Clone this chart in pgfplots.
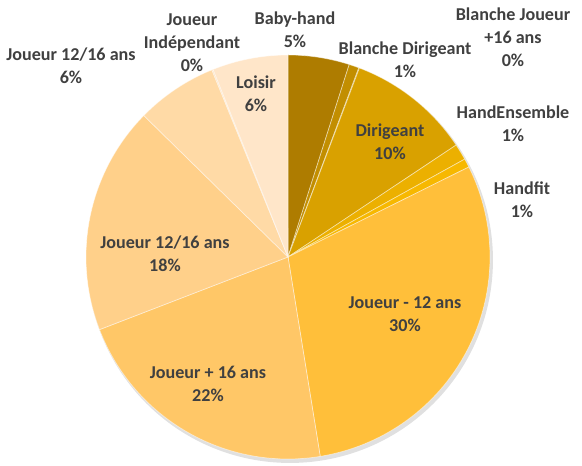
\documentclass[border=0pt]{standalone}
\usepackage{pgfplots}
\pgfplotsset{compat=1.18}
\usepackage{pgfplotstable}
\usepackage{fontspec}
\setmainfont{Carlito}

\definecolor{cA}{HTML}{AE7C00}
\definecolor{cB}{HTML}{C28E00}
\definecolor{cC}{HTML}{C89400}
\definecolor{cD}{HTML}{D9A100}
\definecolor{cE}{HTML}{ECB000}
\definecolor{cF}{HTML}{F7B800}
\definecolor{cG}{HTML}{FFBF3A}
\definecolor{cH}{HTML}{FFC767}
\definecolor{cI}{HTML}{FFD08A}
\definecolor{cJ}{HTML}{FFDAA6}
\definecolor{cK}{HTML}{FFE0B8}
\definecolor{cL}{HTML}{FFE6C9}
\definecolor{lbl}{HTML}{404040}

\tikzset{lab/.style={font=\fontsize{10.3}{13}\selectfont\bfseries, text=lbl, align=center, inner sep=0pt}}

% share in percent, clockwise from 12 o'clock
\pgfplotstableread{
value color
4.9   cA
0.8   cB
0.05  cC
9.9   cD
1.3   cE
0.7   cF
29.8  cG
21.7  cH
18.2  cI
6.5   cJ
0.1   cK
6.05  cL
}\pieData

\begin{document}
\begin{tikzpicture}
\begin{axis}[
    x=0.02cm, y=0.02cm,
    xmin=-288, xmax=294,
    ymin=-209, ymax=257,
    hide axis,
    clip=false,
]
\fill[black, opacity=0.12] (axis cs:2,-3) circle[radius=4.06cm];
\def\astart{90}
\pgfplotsforeachungrouped \i in {0,...,11}{%
    \pgfplotstablegetelem{\i}{value}\of\pieData \let\v\pgfplotsretval
    \pgfplotstablegetelem{\i}{color}\of\pieData \let\c\pgfplotsretval
    \pgfmathsetmacro\aend{\astart-3.6*\v}
    \pgfmathsetmacro\xa{202*cos(\astart)}
    \pgfmathsetmacro\ya{202*sin(\astart)}
    \edef\temp{\noexpand\fill[fill=\c, draw=white, draw opacity=0.5, line width=0.4pt]
        (axis cs:0,0) -- (axis cs:\xa,\ya) arc[start angle=\astart, end angle=\aend, radius=4.04cm] -- cycle;}
    \temp
    \let\astart\aend
}

\node[lab] at (axis cs:7,227) {Baby-hand\\5\%};
\node[lab] at (axis cs:117,197) {Blanche Dirigeant\\1\%};
\node[lab] at (axis cs:225,220) {Blanche Joueur\\+16 ans\\0\%};
\node[lab] at (axis cs:102,115) {Dirigeant\\10\%};
\node[lab] at (axis cs:225,133) {HandEnsemble\\1\%};
\node[lab] at (axis cs:234,57) {Handfit\\1\%};
\node[lab] at (axis cs:117,-57) {Joueur - 12 ans\\30\%};
\node[lab] at (axis cs:-80,-127) {Joueur + 16 ans\\22\%};
\node[lab] at (axis cs:-123,3) {Joueur 12/16 ans\\18\%};
\node[lab] at (axis cs:-217,191) {Joueur 12/16 ans\\6\%};
\node[lab] at (axis cs:-96,214) {Joueur\\Indépendant\\0\%};
\node[lab] at (axis cs:-32,163) {Loisir\\6\%};
\end{axis}
\pgfresetboundingbox
\path[use as bounding box] (current axis.south west) rectangle (current axis.north east);
\end{tikzpicture}
\end{document}
